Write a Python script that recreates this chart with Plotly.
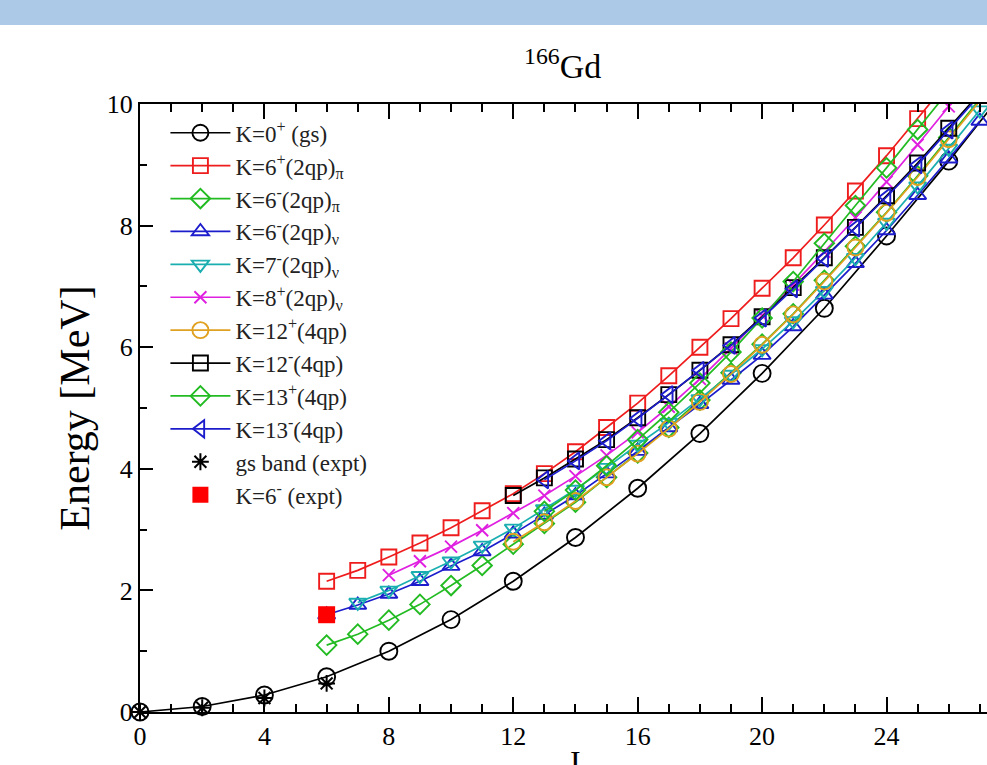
import plotly.graph_objects as go

# ---------------- data ----------------
I_gs = [0, 2, 4, 6, 8, 10, 12, 14, 16, 18, 20, 22, 24, 26, 28]
E_gs = [0.0, 0.09, 0.28, 0.58, 1.00, 1.52, 2.15, 2.87, 3.68, 4.58, 5.57, 6.64, 7.83, 9.06, 10.35]

I_6p_pi = list(range(6, 27))
E_6p_pi = [2.15, 2.33, 2.55, 2.78, 3.03, 3.31, 3.59, 3.92, 4.28, 4.68, 5.08, 5.53, 6.00, 6.47,
           6.97, 7.47, 8.01, 8.57, 9.15, 9.76, 10.38]

I_6m_pi = list(range(6, 28))
E_6m_pi = [1.10, 1.28, 1.51, 1.77, 2.08, 2.41, 2.76, 3.10, 3.45, 3.86, 4.26, 4.68, 5.13, 5.58,
           6.05, 6.55, 7.10, 7.66, 8.22, 8.82, 9.45, 10.08]

I_6m_nu = list(range(6, 28))
E_6m_nu = [1.60, 1.76, 1.94, 2.15, 2.40, 2.64, 2.93, 3.24, 3.56, 3.92, 4.29, 4.68, 5.06, 5.46,
           5.87, 6.34, 6.86, 7.38, 7.92, 8.50, 9.10, 9.72]

I_7m_nu = list(range(7, 28))
E_7m_nu = [1.80, 2.00, 2.24, 2.48, 2.74, 3.02, 3.34, 3.66, 4.02, 4.40, 4.76, 5.15, 5.55, 5.97,
           6.43, 6.93, 7.47, 8.05, 8.65, 9.27, 9.90]

I_8p_nu = list(range(8, 27))
E_8p_nu = [2.25, 2.48, 2.72, 2.99, 3.27, 3.56, 3.88, 4.22, 4.60, 5.02, 5.48, 5.98, 6.52, 7.03,
           7.57, 8.13, 8.72, 9.33, 9.96]

I_12p = list(range(12, 28))
E_12p = [2.80, 3.12, 3.47, 3.86, 4.25, 4.66, 5.10, 5.56, 6.04, 6.54, 7.08, 7.64, 8.21, 8.80,
         9.42, 10.05]

I_12m = list(range(12, 28))
E_12m = [3.56, 3.85, 4.16, 4.48, 4.84, 5.22, 5.62, 6.04, 6.50, 6.98, 7.47, 7.97, 8.49, 9.03,
         9.60, 10.18]

I_13p = list(range(13, 27))
E_13p = [3.30, 3.65, 4.05, 4.48, 4.93, 5.41, 5.92, 6.48, 7.08, 7.71, 8.33, 8.95, 9.58, 10.22]

I_13m = list(range(13, 28))
E_13m = [3.82, 4.13, 4.46, 4.83, 5.22, 5.62, 6.03, 6.48, 6.96, 7.46, 7.96, 8.47, 9.00, 9.57, 10.15]

I_gs_exp = [0, 2, 4, 6]
E_gs_exp = [0.0, 0.07, 0.23, 0.47]

I_6m_exp = [6]
E_6m_exp = [1.60]

x_tickvals = [0, 4, 8, 12, 16, 20, 24]
y_tickvals = [0, 2, 4, 6, 8, 10]

# ---------------- figure ----------------
SERIF = "Liberation Serif, Times New Roman, serif"
fig = go.Figure()

series = [
    (I_gs, E_gs, "K=0<sup>+</sup> (gs)", "black", "circle-open", 17, False),
    (I_6p_pi, E_6p_pi, "K=6<sup>+</sup>(2qp)<sub>π</sub>", "#ee1c1c", "square-open", 15, True),
    (I_6m_pi, E_6m_pi, "K=6<sup>-</sup>(2qp)<sub>π</sub>", "#22bb22", "diamond-open", 15, True),
    (I_6m_nu, E_6m_nu, "K=6<sup>-</sup>(2qp)<sub>ν</sub>", "#1c1ccc", "triangle-up-open", 15, True),
    (I_7m_nu, E_7m_nu, "K=7<sup>-</sup>(2qp)<sub>ν</sub>", "#1aaeb0", "triangle-down-open", 15, True),
    (I_8p_nu, E_8p_nu, "K=8<sup>+</sup>(2qp)<sub>ν</sub>", "#e020e0", "x-thin-open", 12, True),
    (I_12p, E_12p, "K=12<sup>+</sup>(4qp)", "#e0a020", "circle-open", 16, True),
    (I_12m, E_12m, "K=12<sup>-</sup>(4qp)", "black", "square-open", 15, True),
    (I_13p, E_13p, "K=13<sup>+</sup>(4qp)", "#22bb22", "diamond-open", 15, True),
    (I_13m, E_13m, "K=13<sup>-</sup>(4qp)", "#1c1ccc", "triangle-left-open", 15, True),
]

for k, (xs, ys, name, col, sym, sz, clip) in enumerate(series):
    fig.add_trace(go.Scatter(
        x=xs, y=ys, name=name, mode="lines+markers",
        line=dict(color=col, width=1.7),
        marker=dict(symbol=sym, size=sz, color=col, line=dict(color=col, width=1.9)),
        cliponaxis=clip, legendgroup=f"g{k}",
    ))

fig.add_trace(go.Scatter(
    x=I_gs_exp, y=E_gs_exp, name="gs band (expt)", mode="markers",
    marker=dict(symbol="asterisk-open", size=14, color="black", line=dict(color="black", width=2)),
    cliponaxis=False, legendgroup="g10",
))
fig.add_trace(go.Scatter(
    x=I_6m_exp, y=E_6m_exp, name="K=6<sup>-</sup> (expt)", mode="markers",
    marker=dict(symbol="square", size=17, color="#ff0000"),
    cliponaxis=False, legendgroup="g11",
))

fig.update_layout(
    width=987, height=765,
    margin=dict(l=140, r=0, t=104, b=53),
    paper_bgcolor="white", plot_bgcolor="white",
    font=dict(family=SERIF, color="black"),
    showlegend=True,
    legend=dict(
        x=0.03, y=0.988, xanchor="left", yanchor="top",
        bgcolor="rgba(0,0,0,0)", borderwidth=0,
        font=dict(family=SERIF, size=23, color="#222"),
        tracegroupgap=0, itemwidth=60,
    ),
    xaxis=dict(
        range=[0, 27.23], tickvals=x_tickvals, ticks="inside", ticklen=15, tickwidth=2,
        tickcolor="black", showline=True, linewidth=2, linecolor="black", mirror="ticks",
        showgrid=False, zeroline=False, tickfont=dict(family=SERIF, size=26),
        minor=dict(dtick=1, ticks="inside", ticklen=8, tickwidth=2, tickcolor="black", showgrid=False),
    ),
    yaxis=dict(
        range=[0, 10], tickvals=y_tickvals, ticks="inside", ticklen=13, tickwidth=2,
        tickcolor="black", showline=True, linewidth=2, linecolor="black",
        showgrid=False, zeroline=False, tickfont=dict(family=SERIF, size=26),
        minor=dict(dtick=1, ticks="inside", ticklen=7, tickwidth=2, tickcolor="black", showgrid=False),
        title=dict(text="Energy [MeV]", font=dict(family=SERIF, size=42), standoff=4),
    ),
    shapes=[dict(type="rect", xref="paper", yref="paper", x0=-0.3, x1=1.1,
                 y0=1 + (104 - 25) / 608, y1=1.3, fillcolor="#adc9e8", line=dict(width=0),
                 layer="above")],
    annotations=[
        dict(text="<sup>166</sup>Gd", xref="paper", yref="paper", x=0.499, y=1 + (104 - 64) / 608,
             xanchor="center", yanchor="middle", showarrow=False,
             font=dict(family=SERIF, size=34, color="black")),
        dict(text="I", xref="x", yref="paper", x=14, y=-(742 - 712) / 608,
             xanchor="center", yanchor="top", showarrow=False,
             font=dict(family=SERIF, size=32, color="black")),
    ],
)

fig.write_html("out.html")
